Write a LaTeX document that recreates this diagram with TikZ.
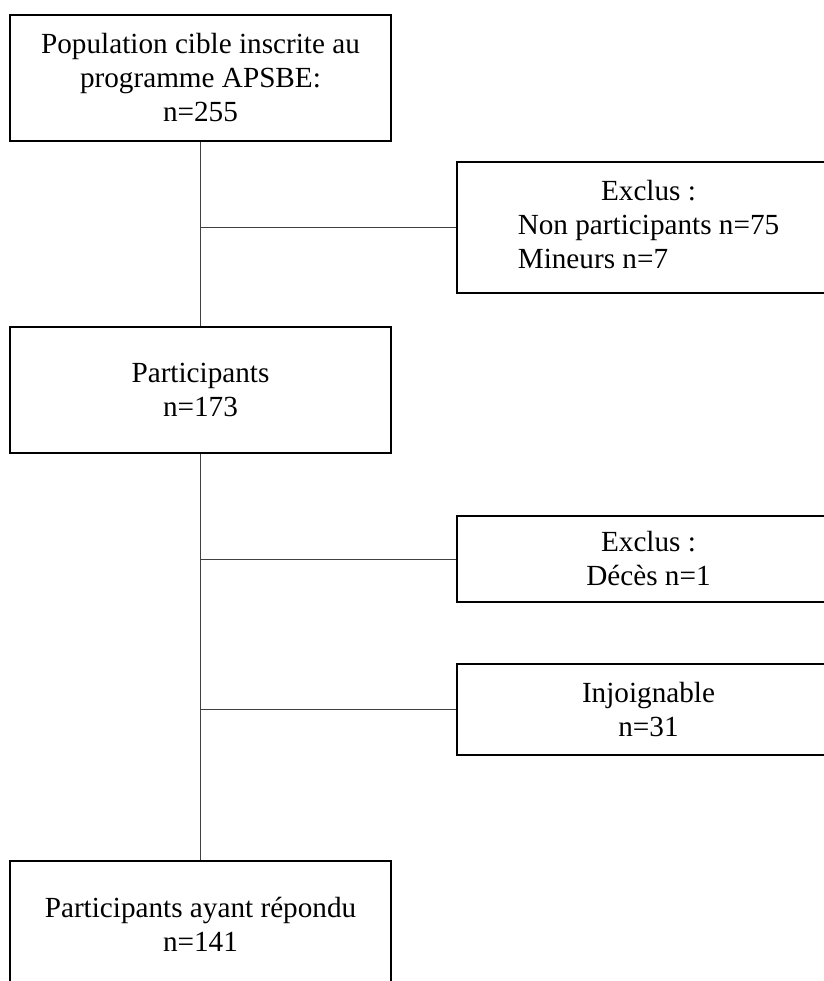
\documentclass[tikz,border=0pt]{standalone}
\usepackage{fontspec}
\setmainfont{Liberation Serif}
\usepackage{tikz}

\tikzset{
    boite/.style = {draw, line width = 1pt, align = center, inner sep = 0pt,
        font = \fontsize{14.6}{17}\selectfont},
    lien/.style = {line width = 0.5pt, draw = black!75},
}

\begin{document}
\begin{tikzpicture}[x = 0.5pt, y = -0.5pt]
        \useasboundingbox (0, 0) rectangle (824, 981);
        \clip (0, 0) rectangle (824, 981);
        \node[boite, minimum width = 190.5pt, minimum height = 63pt] (population) at (200.5, 78) {Population cible inscrite au\\ programme APSBE:\\ n=255};
        \node[boite, minimum width = 191.5pt, minimum height = 65.5pt] (exclus) at (648.5, 227.5) {Exclus :\\ Non participants n=75\\ \rlap{Mineurs n=7}\phantom{Non participants n=75}};
        \node[boite, minimum width = 190.5pt, minimum height = 63pt] (participants) at (200.5, 390) {Participants\\ n=173};
        \node[boite, minimum width = 191.5pt, minimum height = 43pt] (deces) at (648.5, 559) {Exclus :\\ Décès n=1};
        \node[boite, minimum width = 191.5pt, minimum height = 45.5pt] (injoignable) at (648.5, 709.5) {Injoignable\\ n=31};
        \node[boite, minimum width = 190.5pt, minimum height = 63pt] (repondu) at (200.5, 924) {Participants ayant répondu\\ n=141};
        \draw[lien] (population) -- (participants);
        \draw[lien] (participants) -- (repondu);
        \draw[lien] (population |- exclus) -- (exclus);
        \draw[lien] (participants |- deces) -- (deces);
        \draw[lien] (participants |- injoignable) -- (injoignable);
    \end{tikzpicture}
\end{document}
